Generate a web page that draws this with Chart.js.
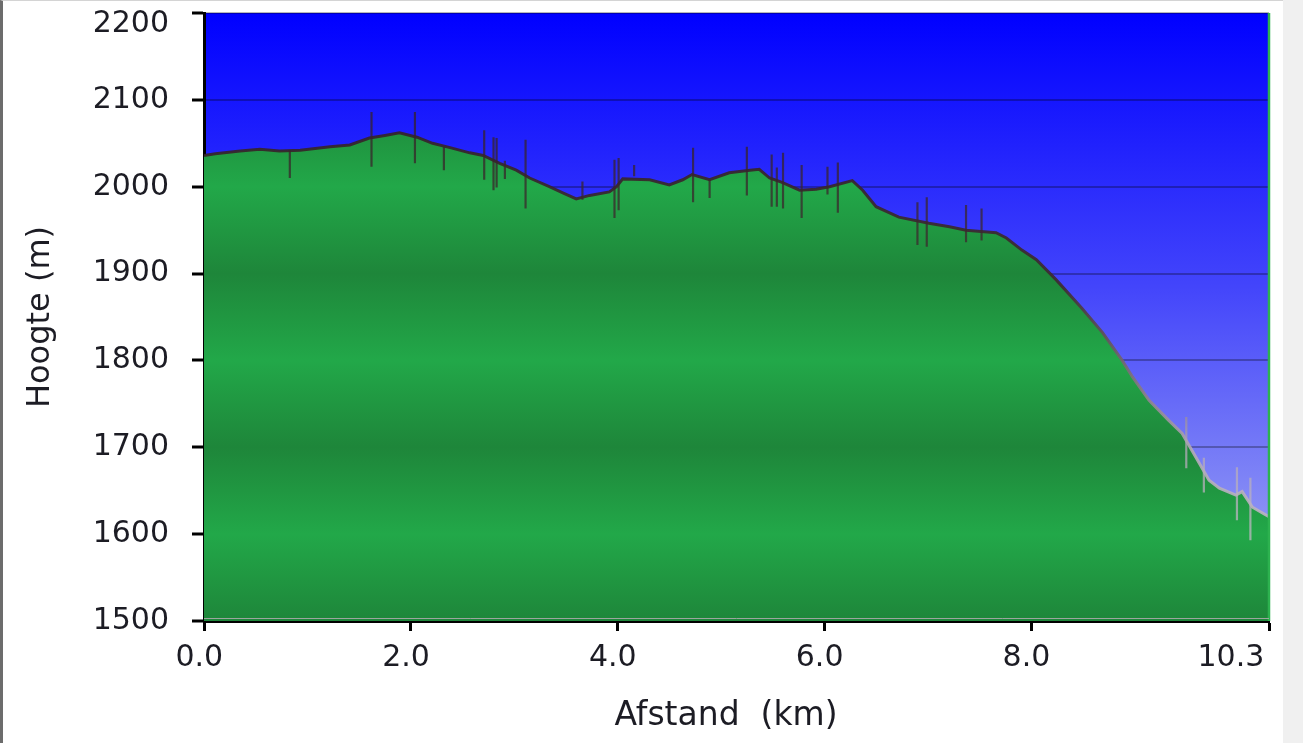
<!DOCTYPE html>
<html>
<head>
<meta charset="utf-8">
<script src="https://cdn.jsdelivr.net/npm/chart.js@4/dist/chart.umd.min.js"></script>
<style>
  html, body { margin: 0; padding: 0; background: #f0f0f0; }
  #panel { position: absolute; left: 0; top: 0; width: 1283px; height: 743px; background: #ffffff; }
  #frame { position: absolute; left: 0; top: 0; width: 1280px; height: 742px;
           border-left: 3px solid #6c6c6c; border-top: 1px solid #d4d4d4; pointer-events: none; z-index: 2; }
  canvas { position: absolute; left: 0; top: 0; }
</style>
</head>
<body>
<div id="panel"><canvas id="c" width="1283" height="743"></canvas></div>
<div id="frame"></div>
<script>
// ---- Data ----
const distanceKm = [0.00, 0.11, 0.35, 0.54, 0.73, 0.93, 1.22, 1.41, 1.60, 1.75, 1.89, 2.06, 2.21, 2.38, 2.57, 2.70,
  2.86, 3.02, 3.15, 3.34, 3.47, 3.60, 3.73, 3.92, 3.99, 4.05, 4.31, 4.50, 4.63, 4.72, 4.89, 5.08, 5.28, 5.37,
  5.47, 5.59, 5.76, 5.92, 6.05, 6.27, 6.37, 6.50, 6.72, 7.01, 7.21, 7.37, 7.66, 7.76, 7.91, 8.05, 8.24, 8.49,
  8.69, 8.88, 8.98, 9.14, 9.33, 9.46, 9.59, 9.72, 9.82, 9.98, 10.04, 10.14, 10.27, 10.30];
const elevationM = [2036, 2038, 2041, 2043, 2041, 2042, 2046, 2048, 2056, 2059, 2062, 2057, 2050, 2045, 2039, 2036,
  2027, 2019, 2010, 2000, 1993, 1986, 1990, 1994, 2000, 2009, 2008, 2002, 2008, 2014, 2008, 2016, 2019, 2020,
  2010, 2005, 1996, 1997, 2000, 2007, 1996, 1977, 1965, 1958, 1954, 1950, 1947, 1941, 1927, 1916, 1893, 1860,
  1832, 1800, 1781, 1754, 1731, 1716, 1689, 1662, 1653, 1645, 1649, 1631, 1622, 1620];

// GPS noise spikes: distance, highest and lowest elevation of each vertical spike
const spikeKm     = [0.83, 1.62, 2.04, 2.32, 2.71, 2.80, 2.83, 2.91, 3.11, 3.66, 3.97, 4.01, 4.16, 4.73, 4.89,
  5.25, 5.49, 5.54, 5.60, 5.78, 6.03, 6.13, 6.90, 6.99, 7.37, 7.52, 9.50, 9.67, 9.99, 10.12];
const spikeTop    = [2042, 2086, 2086, 2046, 2065, 2057, 2056, 2030, 2054, 2006, 2031, 2033, 2025, 2045, 2008,
  2046, 2037, 2022, 2039, 2025, 2023, 2028, 1982, 1988, 1979, 1975, 1735, 1688, 1677, 1665];
const spikeBottom = [2010, 2023, 2027, 2019, 2008, 1996, 1999, 2009, 1975, 1985, 1964, 1973, 2012, 1982, 1987,
  1990, 1977, 1977, 1975, 1964, 1991, 1970, 1933, 1931, 1936, 1938, 1676, 1648, 1616, 1593];

const xTickValues = [0, 2, 4, 6, 8, 10.3];
const yMin = 1500, yMax = 2200, yStep = 100;
const xTitle = 'Afstand  (km)';
const yTitle = 'Hoogte (m)';

// ---- Build datasets ----
const profile = distanceKm.map((x, i) => ({ x: x, y: elevationM[i] }));
const spikes = [];
spikeKm.forEach((x, i) => {
  spikes.push({ x: x, y: spikeTop[i] });
  spikes.push({ x: x, y: spikeBottom[i] });
  spikes.push({ x: x, y: null });
});

const FONT = "'DejaVu Sans', Verdana, sans-serif";
const TEXT = '#1c1c24';

function lineGradient(ctx, chart, alpha) {
  const area = chart.chartArea;
  if (!area) return 'rgba(60,40,40,' + alpha + ')';
  const g = ctx.createLinearGradient(0, area.top, 0, area.bottom);
  g.addColorStop(0, 'rgba(48,28,34,' + alpha + ')');
  g.addColorStop(0.45, 'rgba(62,42,48,' + alpha + ')');
  g.addColorStop(0.72, 'rgba(180,170,185,' + alpha + ')');
  g.addColorStop(1, 'rgba(200,195,205,' + alpha + ')');
  return g;
}

function greenFill(context) {
  const chart = context.chart;
  const area = chart.chartArea;
  if (!area) return '#20a048';
  const ys = chart.scales.y;
  const ctx = chart.ctx;
  const top = ys.getPixelForValue(yMax), bottom = ys.getPixelForValue(yMin);
  const g = ctx.createLinearGradient(0, top, 0, bottom);
  const span = yMax - yMin;
  for (let v = yMax; v >= yMin; v -= yStep / 2) {
    const k = Math.round((yMax - v) / (yStep / 2));
    const phase = k % 4; // light at 2200/2000/1800/1600, dark at 2100/1900/1700/1500
    let c;
    if (phase === 0) c = 'rgb(34,168,73)';
    else if (phase === 2) c = 'rgb(30,134,58)';
    else c = 'rgb(32,151,65)';
    g.addColorStop((yMax - v) / span, c);
  }
  return g;
}

const bgPlugin = {
  id: 'plotBackground',
  beforeDraw(chart) {
    const { ctx, chartArea: a } = chart;
    const g = ctx.createLinearGradient(0, a.top, 0, a.bottom);
    g.addColorStop(0, '#0000ff');
    g.addColorStop(0.45, '#4345fb');
    g.addColorStop(0.83, '#8a90f5');
    g.addColorStop(1, '#a2a6f8');
    ctx.save();
    ctx.fillStyle = g;
    ctx.fillRect(a.left, a.top, a.right - a.left, a.bottom - a.top);
    ctx.restore();
  },
  afterDatasetsDraw(chart) {
    const { ctx, chartArea: a } = chart;
    ctx.save();
    ctx.strokeStyle = '#2db24f';
    ctx.lineWidth = 2.5;
    ctx.beginPath();
    ctx.moveTo(a.right, a.top);
    ctx.lineTo(a.right, a.bottom);
    ctx.stroke();
    ctx.strokeStyle = 'rgba(170,170,170,0.9)';
    ctx.lineWidth = 1;
    ctx.beginPath();
    ctx.moveTo(a.left, a.bottom - 2.5);
    ctx.lineTo(a.right, a.bottom - 2.5);
    ctx.stroke();
    ctx.restore();
  }
};

new Chart(document.getElementById('c'), {
  type: 'line',
  data: {
    datasets: [
      {
        label: 'spikes',
        data: spikes,
        borderColor: (c) => lineGradient(c.chart.ctx, c.chart, 0.75),
        borderWidth: 2.2,
        pointRadius: 0,
        fill: false,
        spanGaps: false,
        tension: 0,
        order: 0
      },
      {
        label: 'Hoogte',
        data: profile,
        borderColor: (c) => lineGradient(c.chart.ctx, c.chart, 0.9),
        borderWidth: 3,
        backgroundColor: greenFill,
        pointRadius: 0,
        fill: 'start',
        tension: 0,
        order: 1
      }
    ]
  },
  options: {
    responsive: false,
    animation: false,
    events: [],
    layout: { padding: { left: 0, top: 13, right: 14, bottom: 0 } },
    plugins: { legend: { display: false }, tooltip: { enabled: false } },
    scales: {
      x: {
        type: 'linear',
        min: 0,
        max: 10.3,
        z: 1,
        afterBuildTicks: (s) => { s.ticks = xTickValues.map(v => ({ value: v })); },
        afterFit: (s) => { s.height = 122; s.paddingLeft = 0; s.paddingRight = 0; },
        ticks: {
          autoSkip: false,
          maxRotation: 0,
          padding: 9,
          color: TEXT,
          font: { family: FONT, size: 30 },
          // trailing spaces shift the labels slightly left, the last one right-aligned like the original
          callback: (v) => Number(v).toFixed(1) + (v === 10.3 ? '        ' : ' ')
        },
        grid: { drawOnChartArea: false, drawTicks: true, tickLength: 10, tickColor: '#000', tickWidth: 3 },
        border: { display: true, color: '#000', width: 3 },
        title: { display: true, text: xTitle + '  ', color: TEXT, font: { family: FONT, size: 33 }, padding: { top: 0, bottom: 7 } }
      },
      y: {
        min: yMin,
        max: yMax,
        z: 1,
        afterFit: (s) => { s.width = 204; s.paddingTop = 0; s.paddingBottom = 0; },
        ticks: {
          stepSize: yStep,
          padding: 23,
          color: TEXT,
          font: (c) => ({ family: FONT, size: 30, lineHeight: (c.tick && c.tick.value === yMax) ? 0.72 : 1.2 }),
          callback: (v) => (v === yMax ? ['', String(v)] : String(v))
        },
        grid: { color: 'rgba(0,0,0,0.28)', lineWidth: 2, drawTicks: true, tickLength: 12, tickColor: '#000', tickWidth: 3 },
        border: { display: true, color: '#000', width: 3 },
        title: { display: true, text: yTitle, color: TEXT, font: { family: FONT, size: 32 }, padding: { top: 21, bottom: 0 } }
      }
    }
  },
  plugins: [bgPlugin]
});
</script>
</body>
</html>
